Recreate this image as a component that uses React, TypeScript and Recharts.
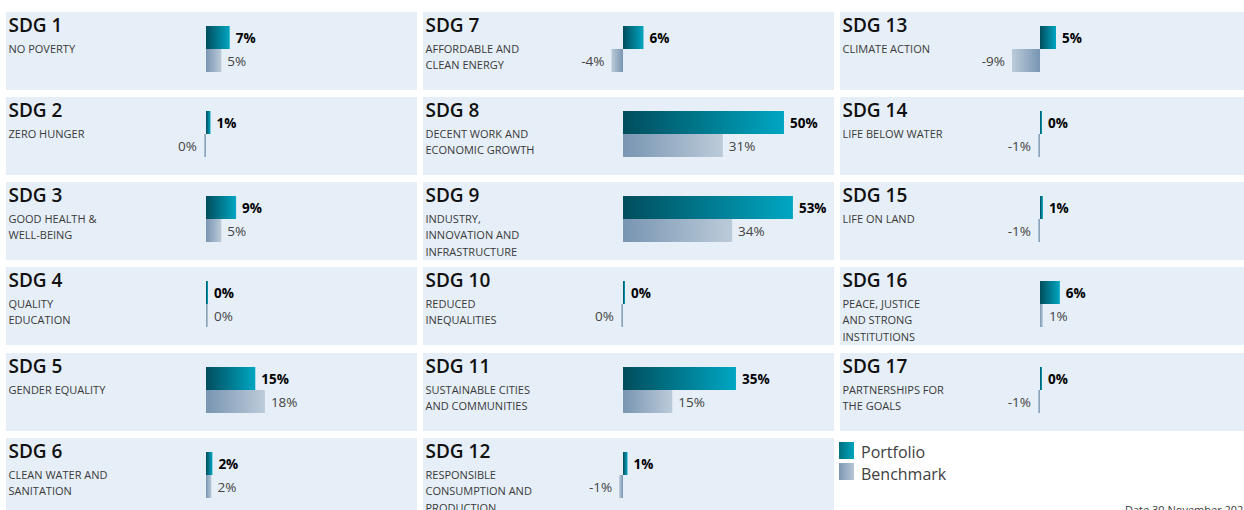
import { Bar, BarChart, LabelList, XAxis, YAxis } from "recharts";

const sdgNumbers = [1, 2, 3, 4, 5, 6, 7, 8, 9, 10, 11, 12, 13, 14, 15, 16, 17];
const sdgNames = [
  "NO POVERTY",
  "ZERO HUNGER",
  "GOOD HEALTH &\nWELL-BEING",
  "QUALITY\nEDUCATION",
  "GENDER EQUALITY",
  "CLEAN WATER AND\nSANITATION",
  "AFFORDABLE AND\nCLEAN ENERGY",
  "DECENT WORK AND\nECONOMIC GROWTH",
  "INDUSTRY,\nINNOVATION AND\nINFRASTRUCTURE",
  "REDUCED\nINEQUALITIES",
  "SUSTAINABLE CITIES\nAND COMMUNITIES",
  "RESPONSIBLE\nCONSUMPTION AND\nPRODUCTION",
  "CLIMATE ACTION",
  "LIFE BELOW WATER",
  "LIFE ON LAND",
  "PEACE, JUSTICE\nAND STRONG\nINSTITUTIONS",
  "PARTNERSHIPS FOR\nTHE GOALS",
];
// percent
const portfolioPct = [7.4, 1.4, 9.4, 0.1, 15.4, 2.0, 6.4, 50.3, 53.1, 0, 35.3, 1.4, 5.0, 0, 0.9, 6.2, 0];
const benchmarkPct = [4.8, -0.3, 4.8, 0.1, 18.4, 1.7, -3.6, 31.2, 34.1, -0.3, 15.4, -1.2, -8.75, -0.6, -0.6, 0.9, -0.6];
const legendLabels = ["Portfolio", "Benchmark"];
const dateLabel = "Date 30 November 2023";

const COL_X = [6, 423, 840];
const ROW_Y = [12, 97, 182, 267, 353, 438];
const PANEL_W = 411;
const PANEL_H = 78;
const PX_PER_PCT = 3.2;
const ZERO_OFFSET = 200;
const X_DOMAIN = [-ZERO_OFFSET / PX_PER_PCT, (PANEL_W - ZERO_OFFSET) / PX_PER_PCT];
const FONT = "'Open Sans', 'Noto Sans', sans-serif";
const MIN_W = 2;

function barEdges(x: number, width: number, neg: boolean) {
  const lo = Math.min(x, x + width);
  const hi = Math.max(x, x + width);
  const len = Math.max(hi - lo, MIN_W);
  const base = neg ? hi : lo;
  return neg ? { left: base - len, len, end: base - len } : { left: base, len, end: base + len };
}

const makeShape = (key: "portfolio" | "benchmark") => (props: any) => {
  const { x, y, width, height, payload } = props;
  const v = payload[key];
  const neg = v < 0;
  const { left, len } = barEdges(x, width, neg);
  const grad = (key === "portfolio" ? "gp" : "gb") + (neg ? "Neg" : "Pos");
  return <rect x={left} y={y} width={len} height={height} fill={`url(#${grad})`} />;
};

const makeLabel = (key: "portfolio" | "benchmark") => (props: any) => {
  const { x, y, width, height, value } = props;
  const v = Number(value);
  const neg = v < 0;
  const { end } = barEdges(x, width, neg);
  const bold = key === "portfolio";
  return (
    <text
      x={neg ? end - 7 : end + 6}
      y={y + height / 2}
      dominantBaseline="central"
      textAnchor={neg ? "end" : "start"}
      fontFamily={FONT}
      fontSize={13.5}
      fontWeight={bold ? 700 : 400}
      fill={bold ? "#000" : "#444"}
    >
      {`${Math.round(v)}%`}
    </text>
  );
};

function Panel({ i }: { i: number }) {
  const col = Math.floor(i / 6);
  const row = i % 6;
  const data = [{ name: `SDG ${sdgNumbers[i]}`, portfolio: portfolioPct[i], benchmark: benchmarkPct[i] }];
  return (
    <div
      style={{
        position: "absolute",
        left: COL_X[col],
        top: ROW_Y[row],
        width: PANEL_W,
        height: PANEL_H,
        background: "#e6eef7",
      }}
    >
      <div
        style={{
          position: "absolute",
          left: 2.5,
          top: 4.1,
          fontFamily: FONT,
          fontSize: 19,
          lineHeight: "19px",
          fontWeight: 600,
          color: "#111",
          whiteSpace: "nowrap",
        }}
      >
        {`SDG ${sdgNumbers[i]}`}
      </div>
      <div
        style={{
          position: "absolute",
          left: 2.5,
          top: 28.5,
          fontFamily: FONT,
          fontSize: 11,
          lineHeight: "16.7px",
          color: "#3a3a3a",
          whiteSpace: "pre",
        }}
      >
        {sdgNames[i]}
      </div>
      <div style={{ position: "absolute", left: 0, top: 0 }}>
        <BarChart
          width={PANEL_W}
          height={PANEL_H}
          data={data}
          layout="vertical"
          margin={{ top: 14, right: 0, bottom: 19, left: 0 }}
          barCategoryGap={0}
          barGap={0}
        >
          <XAxis type="number" domain={X_DOMAIN} allowDataOverflow hide />
          <YAxis type="category" dataKey="name" hide />
          <Bar dataKey="portfolio" shape={makeShape("portfolio")} isAnimationActive={false}>
            <LabelList dataKey="portfolio" content={makeLabel("portfolio")} />
          </Bar>
          <Bar dataKey="benchmark" shape={makeShape("benchmark")} isAnimationActive={false}>
            <LabelList dataKey="benchmark" content={makeLabel("benchmark")} />
          </Bar>
        </BarChart>
      </div>
    </div>
  );
}

export default function App() {
  return (
    <div
      style={{
        position: "absolute",
        left: 0,
        top: 0,
        width: 1244,
        height: 510,
        overflow: "hidden",
        background: "#fff",
      }}
    >
      <svg width={0} height={0} style={{ position: "absolute" }}>
        <defs>
          <linearGradient id="gpPos" x1="0" x2="1" y1="0" y2="0">
            <stop offset="0%" stopColor="#004d5c" />
            <stop offset="100%" stopColor="#00a6c2" />
          </linearGradient>
          <linearGradient id="gpNeg" x1="1" x2="0" y1="0" y2="0">
            <stop offset="0%" stopColor="#004d5c" />
            <stop offset="100%" stopColor="#00a6c2" />
          </linearGradient>
          <linearGradient id="gbPos" x1="0" x2="1" y1="0" y2="0">
            <stop offset="0%" stopColor="#7895b2" />
            <stop offset="100%" stopColor="#bccbd9" />
          </linearGradient>
          <linearGradient id="gbNeg" x1="1" x2="0" y1="0" y2="0">
            <stop offset="0%" stopColor="#7895b2" />
            <stop offset="100%" stopColor="#bccbd9" />
          </linearGradient>
        </defs>
      </svg>
      {sdgNumbers.map((_, i) => (
        <Panel key={i} i={i} />
      ))}
      {legendLabels.map((label, k) => (
        <div key={label}>
          <div
            style={{
              position: "absolute",
              left: 839,
              top: k === 0 ? 442 : 463,
              width: 15,
              height: 17,
              background:
                k === 0
                  ? "linear-gradient(to right, #00717f, #00a4be)"
                  : "linear-gradient(to right, #7d98b3, #b7c7d7)",
            }}
          />
          <div
            style={{
              position: "absolute",
              left: 861,
              top: k === 0 ? 442 : 464,
              fontFamily: FONT,
              fontSize: 16,
              lineHeight: "20px",
              color: "#404040",
            }}
          >
            {label}
          </div>
        </div>
      ))}
      <div
        style={{
          position: "absolute",
          left: 1125,
          top: 502.5,
          fontFamily: FONT,
          fontSize: 11,
          lineHeight: "14px",
          color: "#404040",
          whiteSpace: "nowrap",
        }}
      >
        {dateLabel}
      </div>
    </div>
  );
}
